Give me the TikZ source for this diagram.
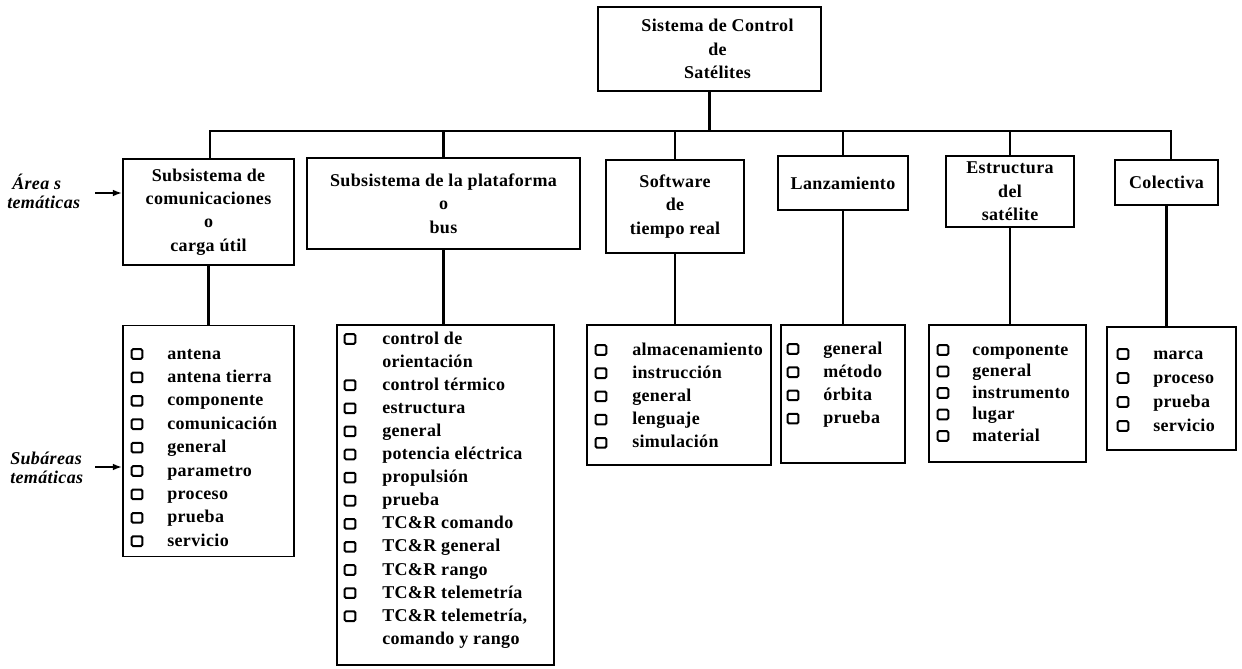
\documentclass[tikz,border=0pt]{standalone}
\usepackage{fontspec}
\setmainfont{Liberation Serif}[LetterSpace=2]
\usetikzlibrary{arrows.meta}
\begin{document}
\begin{tikzpicture}[x=0.75pt,y=-0.75pt,
  txt/.style={font=\fontsize{13.5}{17.5}\selectfont\bfseries},
  box/.style={draw,line width=1.1pt,inner sep=0pt,align=center,txt},
  lst/.style={draw,line width=1.1pt,inner sep=0pt},
  item/.style={anchor=base west,inner sep=0pt,txt},
  cb/.style={draw,line width=1.5pt,rounded corners=1pt,inner sep=0pt,minimum width=8pt,minimum height=7.2pt},
  lab/.style={anchor=base west,inner sep=0pt,font=\fontsize{13.5}{17.5}\selectfont\bfseries\itshape},
  conn/.style={line width=1.6pt},
  arr/.style={line width=1.4pt,-{Latex[length=7pt,width=5pt]}}]
\useasboundingbox (0,0) rectangle (1242,668);

% top-level boxes
\node[box,minimum width=167.25pt,minimum height=63pt] (top) at (709.5,49) {\hspace*{12pt}Sistema de Control\\\hspace*{12pt}de\\\hspace*{12pt}Satélites};
\node[box,minimum width=128.25pt,minimum height=79.5pt] (b1) at (208.5,212) {Subsistema de\\comunicaciones\\o\\carga útil};
\node[box,minimum width=204.75pt,minimum height=68.25pt] (b2) at (443.5,203.5) {Subsistema de la plataforma\\o\\bus};
\node[box,minimum width=103.5pt,minimum height=69.75pt] (b3) at (675,206.5) {Software\\de\\tiempo real};
\node[box,minimum width=97.5pt,minimum height=40.5pt] (b4) at (843,183) {Lanzamiento};
\node[box,minimum width=96pt,minimum height=53.25pt] (b5) at (1010,191.5) {Estructura\\del\\satélite};
\node[box,minimum width=77.25pt,minimum height=33.75pt] (b6) at (1166.5,182.5) {Colectiva};

% list boxes
\node[lst,minimum width=128.25pt,minimum height=173pt] (l1) at (208.5,441) {};
\node[lst,minimum width=162.75pt,minimum height=255pt] (l2) at (445.5,495) {};
\node[lst,minimum width=138pt,minimum height=105pt] (l3) at (679,395) {};
\node[lst,minimum width=93pt,minimum height=103.5pt] (l4) at (843,394) {};
\node[lst,minimum width=117.75pt,minimum height=102.75pt] (l5) at (1007.5,393.5) {};
\node[lst,minimum width=96.75pt,minimum height=92.25pt] (l6) at (1171.5,388.5) {};

% bus
\coordinate (busL) at (210,131);
\coordinate (busR) at (1171,131);
\draw[conn] (b1.north -| busL) |- (busR) -- (b6.north -| busR);
\draw[conn] (top.south) -- (top.south |- busL);
\draw[conn] (b2.north) -- (b2.north |- busL);
\draw[conn] (b3.north) -- (b3.north |- busL);
\draw[conn] (b4.north) -- (b4.north |- busL);
\draw[conn] (b5.north) -- (b5.north |- busL);

% stems to lists
\draw[conn] (b1.south) -- (l1.north);
\draw[conn] (b2.south) -- (b2.south |- l2.north);
\draw[conn] (b3.south) -- (b3.south |- l3.north);
\draw[conn] (b4.south) -- (l4.north);
\draw[conn] (b5.south) -- (b5.south |- l5.north);
\draw[conn] (b6.south) -- (b6.south |- l6.north);

% side labels
\node[lab] (la1) at (12,189) {Área s};
\node[lab] (la2) at (7,208) {temáticas};
\coordinate (a1) at (95,193);
\draw[arr] (a1) -- (b1.west |- a1);
\node[lab] (ls1) at (10,464) {Subáreas};
\node[lab] (ls2) at (10,483) {temáticas};
\coordinate (a2) at (95,467);
\draw[arr] (a2) -- (l1.west |- a2);

% list 1
\foreach \t [count=\i from 0] in {antena,antena tierra,componente,comunicación,general,parametro,proceso,prueba,servicio}{
  \node[cb] (l1c\i) at (137,354+\i*23.4) {};
  \node[item] (l1t\i) at (167,359+\i*23.4) {\t};
}
% list 2
\foreach \t [count=\i from 0] in {control de,orientación,control térmico,estructura,general,potencia eléctrica,propulsión,prueba,TC\&R comando,TC\&R general,TC\&R rango,TC\&R telemetría,{TC\&R telemetría,},comando y rango}{
  \node[item] (l2t\i) at (382,344+\i*23.1) {\t};
}
\foreach \i in {0,2,3,4,5,6,7,8,9,10,11,12}{
  \node[cb] (l2c\i) at (350,339+\i*23.1) {};
}
% list 3
\foreach \t [count=\i from 0] in {almacenamiento,instrucción,general,lenguaje,simulación}{
  \node[cb] (l3c\i) at (601,350+\i*23.2) {};
  \node[item] (l3t\i) at (632,355+\i*23.2) {\t};
}
% list 4
\foreach \t [count=\i from 0] in {general,método,órbita,prueba}{
  \node[cb] (l4c\i) at (793,349+\i*23.2) {};
  \node[item] (l4t\i) at (823,354+\i*23.2) {\t};
}
% list 5
\foreach \t [count=\i from 0] in {componente,general,instrumento,lugar,material}{
  \node[cb] (l5c\i) at (943,350+\i*21.5) {};
  \node[item] (l5t\i) at (972,355+\i*21.5) {\t};
}
% list 6
\foreach \t [count=\i from 0] in {marca,proceso,prueba,servicio}{
  \node[cb] (l6c\i) at (1123,354+\i*24) {};
  \node[item] (l6t\i) at (1153,359+\i*24) {\t};
}
\end{tikzpicture}
\end{document}
